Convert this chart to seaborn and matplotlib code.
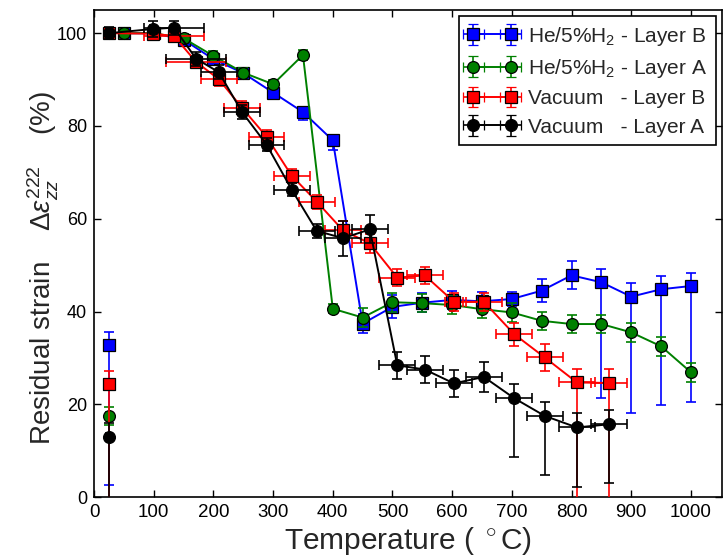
import numpy as np
import pandas as pd
import matplotlib
matplotlib.use("Agg")
import matplotlib.pyplot as plt
import seaborn as sns

# ---------------- data ----------------
T_he = [50, 100, 150, 200, 250, 300, 350, 400, 450, 500, 550, 600, 650, 700, 750, 800, 850, 900, 950, 1000]
he_B = [100.0, 100.0, 98.6, 94.4, 91.4, 87.2, 83.0, 76.9, 37.4, 41.0, 41.9, 42.5, 42.2, 42.7, 44.5, 47.8, 46.3, 43.2, 44.8, 45.5]
he_B_lo = [1, 1, 1, 1, 1, 1, 1.7, 2, 2, 2.5, 2, 2, 2, 1.5, 2.5, 3, 25, 25, 25, 25]
he_B_hi = [1, 1, 1, 1, 1, 1, 1, 1, 2, 2.5, 2, 2, 2, 1.5, 2.5, 3, 2.9, 3, 2.9, 2.9]
he_A = [100.0, 100.0, 98.9, 95.1, 91.5, 89.0, 95.3, 40.6, 38.7, 42.0, 41.8, 41.4, 40.5, 39.8, 38.0, 37.3, 37.3, 35.5, 32.5, 26.9]
he_A_err = [1, 1, 1, 1, 1, 1, 1, 1, 2, 2, 2, 2, 2, 2, 2, 2, 2, 2, 2, 2]
he_xerr = [5] * 20

T_vac = [25, 98, 134, 171, 209, 248, 289, 331, 373, 417, 462, 508, 554, 603, 653, 704, 755, 809, 863]
vac_B = [100.0, 99.9, 99.4, 93.8, 90.1, 83.9, 77.7, 69.3, 63.7, 57.5, 54.7, 47.3, 47.8, 42.1, 42.1, 35.1, 30.1, 24.7, 24.6]
vac_B_lo = [1, 1, 1, 1, 1.5, 1.5, 1.5, 1.5, 1.5, 2, 2, 1.8, 1.9, 2, 2, 2.5, 3, 30, 30]
vac_B_hi = [1, 1, 1, 1, 1.5, 1.5, 1.5, 1.5, 1.5, 2, 2, 1.8, 1.9, 2, 2, 2.5, 3, 3, 3]
vac_B_xerr = [5, 5, 50, 50, 30, 30, 30, 30, 30, 30, 30, 30, 30, 15, 30, 30, 30, 30, 30]
vac_A = [100.0, 100.9, 101.2, 94.5, 91.6, 83.0, 76.0, 66.3, 57.4, 55.8, 57.7, 28.4, 27.5, 24.5, 25.9, 21.3, 17.5, 15.0, 15.7]
vac_A_lo = [1.3, 1.7, 1.5, 1.5, 1.5, 1.5, 1.5, 1.5, 1.5, 3.8, 3, 2.9, 3, 3, 3.2, 12.7, 12.8, 12.8, 12.7]
vac_A_hi = [1.3, 1.7, 1.5, 1.5, 1.5, 1.5, 1.5, 1.5, 1.5, 3.8, 3, 2.9, 3, 3, 3.2, 3.1, 3.0, 3.2, 3.1]
vac_A_xerr = [5, 5, 50, 50, 30, 30, 30, 30, 30, 30, 30, 30, 30, 30, 30, 30, 30, 30, 30]

# final room-temperature values (not connected)
T_final = [25]
fin_heB, fin_heB_lo, fin_heB_hi = [32.8], [30.2], [2.8]
fin_heA, fin_heA_err = [17.5], [2.0]
fin_vacB, fin_vacB_lo, fin_vacB_hi = [24.3], [30.0], [2.9]
fin_vacA, fin_vacA_lo, fin_vacA_hi = [12.9], [20.0], [3.0]

labels = ["He/5%H$_2$ - Layer B", "He/5%H$_2$ - Layer A",
          "Vacuum   - Layer B", "Vacuum   - Layer A"]
colors = ["#0000ff", "#008000", "#ff0000", "#000000"]
markers = ["s", "o", "s", "o"]

# ---------------- style ----------------
sns.set_style("ticks")
plt.rcParams['font.family'] = ['Liberation Sans', 'DejaVu Sans']
plt.rcParams['mathtext.fontset'] = 'custom'
plt.rcParams['mathtext.rm'] = 'Liberation Sans'
plt.rcParams['mathtext.it'] = 'Liberation Sans:italic'

fig = plt.figure(figsize=(7.26, 5.56), dpi=100)
ax = fig.add_axes([0.1295, 0.106, 0.865, 0.876])

series = [
    (T_he, he_B, [he_B_lo, he_B_hi], he_xerr,
     T_final, fin_heB, [fin_heB_lo, fin_heB_hi]),
    (T_he, he_A, [he_A_err, he_A_err], he_xerr,
     T_final, fin_heA, [fin_heA_err, fin_heA_err]),
    (T_vac, vac_B, [vac_B_lo, vac_B_hi], vac_B_xerr,
     T_final, fin_vacB, [fin_vacB_lo, fin_vacB_hi]),
    (T_vac, vac_A, [vac_A_lo, vac_A_hi], vac_A_xerr,
     T_final, fin_vacA, [fin_vacA_lo, fin_vacA_hi]),
]

MS = 8.5
handles = []
for i, (x, y, yerr, xerr, xf, yf, yerrf) in enumerate(series):
    c, m = colors[i], markers[i]
    z = 2 + i
    ax.errorbar(x, y, yerr=yerr, xerr=xerr, fmt='none', ecolor=c,
                elinewidth=1.2, capsize=3.5, capthick=1.2, zorder=z)
    ax.errorbar(xf, yf, yerr=yerrf, xerr=[5], fmt='none', ecolor=c,
                elinewidth=1.2, capsize=3.5, capthick=1.2, zorder=z)
    df = pd.DataFrame({"T": x, "v": y})
    sns.lineplot(data=df, x="T", y="v", ax=ax, sort=False, color=c,
                 marker=m, markersize=MS, markeredgecolor='black',
                 markeredgewidth=0.9, linewidth=1.4, zorder=z + 0.5,
                 legend=False)
    dff = pd.DataFrame({"T": xf, "v": yf})
    sns.scatterplot(data=dff, x="T", y="v", ax=ax, color=c, marker=m,
                    s=MS ** 2, edgecolor='black', linewidth=0.9,
                    zorder=z + 0.5, legend=False)
    # legend proxy (no visible data)
    h = ax.errorbar([np.nan], [np.nan], yerr=[1], xerr=[1], fmt='-' + m,
                    color=c, ecolor=c, markersize=MS, markeredgecolor='black',
                    markeredgewidth=0.9, linewidth=1.4, elinewidth=1.2,
                    capsize=3.5, capthick=1.2)
    handles.append(h)

ax.set_xlim(0, 1052)
ax.set_ylim(0, 105)
ax.set_xticks(np.arange(0, 1001, 100))
ax.set_yticks(np.arange(0, 101, 20))
ax.tick_params(direction='in', top=True, right=True, length=5, width=1,
               pad=5, colors='black')
ax.tick_params(axis='x', labelsize=13.5)
ax.tick_params(axis='y', labelsize=13)
for s in ax.spines.values():
    s.set_linewidth(1.2)
    s.set_color('black')

ax.set_xlabel("Temperature ( $^\\circ$C)", fontsize=21.5, labelpad=3)
ax.set_ylabel("Residual strain    $\\Delta\\varepsilon_{zz}^{222}$    (%)",
              fontsize=20)
ax.yaxis.set_label_coords(-0.052, 0.47)

leg = ax.legend(handles, labels, loc='upper right', numpoints=2,
                fontsize=15, frameon=True, fancybox=False, framealpha=1,
                edgecolor='black', handlelength=2.4, borderpad=0.4,
                labelspacing=0.45, handletextpad=0.55, borderaxespad=0.3)
leg.get_frame().set_linewidth(1.2)

fig.savefig("out.png", dpi=100)
